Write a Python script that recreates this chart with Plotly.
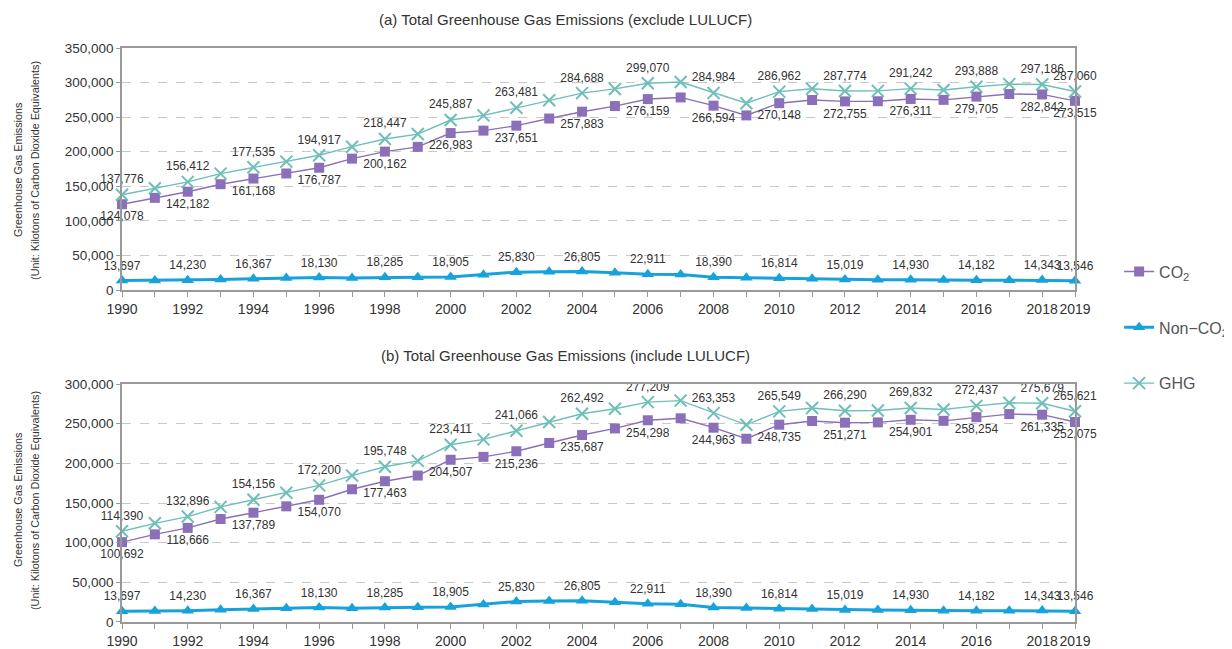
import plotly.graph_objects as go
from plotly.subplots import make_subplots

years = list(range(1990, 2020))

# (a) exclude LULUCF
co2_a = [124078, 133300, 142182, 153000, 161168, 168500, 176787, 190000, 200162, 207000,
         226983, 230500, 237651, 248000, 257883, 266000, 276159, 278500, 266594, 252500,
         270148, 274800, 272755, 273000, 276311, 275000, 279705, 283500, 282842, 273515]
non_co2 = [13697, 13900, 14230, 15300, 16367, 17200, 18130, 17300, 18285, 18500,
           18905, 22000, 25830, 26500, 26805, 24800, 22911, 22300, 18390, 17600,
           16814, 16300, 15019, 15000, 14930, 14300, 14182, 14200, 14343, 13546]
ghg_a = [137776, 147200, 156412, 168300, 177535, 185700, 194917, 207300, 218447, 225500,
         245887, 252500, 263481, 274500, 284688, 290800, 299070, 300800, 284984, 270100,
         286962, 291100, 287774, 288000, 291242, 289300, 293888, 297700, 297186, 287060]

# (b) include LULUCF
co2_b = [100692, 110500, 118666, 129800, 137789, 145800, 154070, 167300, 177463, 184600,
         204507, 208200, 215236, 225700, 235687, 244000, 254298, 256800, 244963, 231000,
         248735, 253400, 251271, 251600, 254901, 253600, 258254, 262100, 261335, 252075]
ghg_b = [114390, 124400, 132896, 145100, 154156, 163000, 172200, 184600, 195748, 203100,
         223411, 230200, 241066, 252200, 262492, 268800, 277209, 279100, 263353, 248600,
         265549, 269700, 266290, 266600, 269832, 267900, 272437, 276300, 275679, 265621]

tick_years = [1990, 1992, 1994, 1996, 1998, 2000, 2002, 2004, 2006, 2008, 2010, 2012,
              2014, 2016, 2018, 2019]

ytitle_lines = ["Greenhouse Gas Emissions",
                "(Unit: Kilotons of Carbon Dioxide Equivalents)"]

C_CO2 = "#8B6FB8"
C_NON = "#17A2DC"
C_GHG = "#6EBFB8"
FONT = "Liberation Sans, Arial, sans-serif"


def labels(vals):
    return [f"{v:,}" if (y in tick_years) else "" for y, v in zip(years, vals)]


fig = make_subplots(rows=2, cols=1, vertical_spacing=0.1)

LBL = dict(family=FONT, size=12, color="#333")


def add_set(row, co2, ghg, show):
    fig.add_trace(go.Scatter(
        x=years, y=co2, name="CO<sub>2</sub>", mode="lines+markers+text",
        line=dict(color=C_CO2, width=1.4),
        marker=dict(symbol="square", size=10, color=C_CO2),
        text=labels(co2), textposition="bottom center", textfont=LBL,
        cliponaxis=False, showlegend=show, legendgroup="a"), row=row, col=1)
    fig.add_trace(go.Scatter(
        x=years, y=non_co2, name="Non\u2212CO<sub>2</sub>", mode="lines+markers+text",
        line=dict(color=C_NON, width=3),
        marker=dict(symbol="triangle-up", size=11, color=C_NON),
        text=labels(non_co2), textposition="top center", textfont=LBL,
        cliponaxis=False, showlegend=show, legendgroup="b"), row=row, col=1)
    fig.add_trace(go.Scatter(
        x=years, y=ghg, name="GHG", mode="lines+markers+text",
        line=dict(color=C_GHG, width=1.4),
        marker=dict(symbol="x-thin-open", size=12, color=C_GHG,
                    line=dict(color=C_GHG, width=2)),
        text=labels(ghg), textposition="top center", textfont=LBL,
        cliponaxis=False, showlegend=show, legendgroup="c"), row=row, col=1)


add_set(1, co2_a, ghg_a, True)
add_set(2, co2_b, ghg_b, False)

xaxis_common = dict(
    range=[1990, 2019], tickvals=tick_years, ticktext=[str(y) for y in tick_years],
    tickangle=0, automargin=False,
    ticks="outside", ticklen=5, tickcolor="#999",
    minor=dict(dtick=1, tick0=1990, ticks="outside", ticklen=5, tickcolor="#999"),
    showline=True, linecolor="#999", linewidth=1.5, mirror=True,
    showgrid=False, zeroline=False,
    tickfont=dict(family=FONT, size=14, color="#333"),
)
yaxis_common = dict(
    tickformat=",", dtick=50000, ticks="outside", ticklen=4, tickcolor="#999",
    automargin=False,
    showline=True, linecolor="#999", linewidth=1.5, mirror=True,
    showgrid=True, gridcolor="#C8C8C8", griddash="dash", gridwidth=1,
    zeroline=False,
    tickfont=dict(family=FONT, size=13.5, color="#333"),
)

fig.update_xaxes(**xaxis_common)
fig.update_yaxes(**yaxis_common)
fig.update_yaxes(range=[0, 350000], domain=[0.5784, 1.0], row=1, col=1)
fig.update_yaxes(range=[0, 300000], domain=[0.0, 0.4146], row=2, col=1)

titles = [
    ("(a) Total Greenhouse Gas Emissions (exclude LULUCF)", 1.049),
    ("(b) Total Greenhouse Gas Emissions (include LULUCF)", 0.465),
]
for t, yy in titles:
    fig.add_annotation(text=t, xref="paper", yref="paper", x=0.465, y=yy,
                       showarrow=False, xanchor="center", yanchor="middle",
                       font=dict(family=FONT, size=15, color="#333"))

for yy in (0.7875, 0.2125):
    for line, xx in zip(ytitle_lines, (-0.1091, -0.0913)):
        fig.add_annotation(text=line, xref="paper", yref="paper", x=xx, y=yy,
                           showarrow=False, textangle=-90, xanchor="center",
                           yanchor="middle",
                           font=dict(family=FONT, size=10.8, color="#333"))

# page body has an 8px margin: figure shrunk/shifted so plot areas land on reference pixels
fig.update_layout(
    width=1224, height=641,
    margin=dict(l=114, r=157, t=40, b=27, autoexpand=False),
    paper_bgcolor="white", plot_bgcolor="white",
    showlegend=True,
    legend=dict(x=1.0463, y=0.64, xanchor="left", yanchor="top",
                traceorder="grouped", tracegroupgap=32,
                font=dict(family=FONT, size=16, color="#555"),
                bgcolor="rgba(0,0,0,0)"),
    font=dict(family=FONT, color="#333"),
)

fig.write_html("out.html")
